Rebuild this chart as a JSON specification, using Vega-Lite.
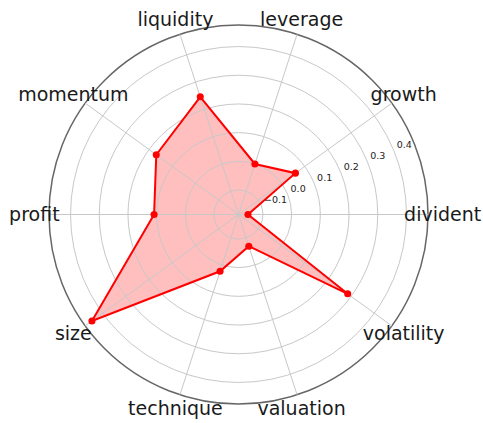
{
  "$schema": "https://vega.github.io/schema/vega-lite/v6.json",
  "width": 379,
  "height": 379,
  "autosize": "none",
  "padding": {"left": 49, "top": 25, "right": 55, "bottom": 19},
  "background": "white",
  "config": {"view": {"stroke": null}},
  "datasets": {
    "factors": [
      {"factor": "divident", "value": -0.152},
      {"factor": "growth", "value": 0.06},
      {"factor": "leverage", "value": 0.0},
      {"factor": "liquidity", "value": 0.246},
      {"factor": "momentum", "value": 0.169},
      {"factor": "profit", "value": 0.109},
      {"factor": "size", "value": 0.446},
      {"factor": "technique", "value": 0.023},
      {"factor": "valuation", "value": -0.069},
      {"factor": "volatility", "value": 0.285}
    ],
    "rings": [
      {"r": -0.1, "kind": "grid"}, {"r": 0.0, "kind": "grid"}, {"r": 0.1, "kind": "grid"},
      {"r": 0.2, "kind": "grid"}, {"r": 0.3, "kind": "grid"}, {"r": 0.4, "kind": "grid"},
      {"r": 0.475, "kind": "spine"}
    ],
    "ticks": [
      {"t": -0.1, "label": "−0.1"},
      {"t": 0.0, "label": "0.0"},
      {"t": 0.1, "label": "0.1"},
      {"t": 0.2, "label": "0.2"},
      {"t": 0.3, "label": "0.3"},
      {"t": 0.4, "label": "0.4"}
    ]
  },
  "data": {"name": "factors"},
  "transform": [
    {"window": [{"op": "row_number", "as": "idx"}]},
    {"calculate": "(datum.idx - 1) * PI / 5", "as": "ang"},
    {"calculate": "(datum.value + 0.185) * cos(datum.ang)", "as": "px"},
    {"calculate": "(datum.value + 0.185) * sin(datum.ang)", "as": "py"},
    {"calculate": "0", "as": "cx"},
    {"calculate": "0.66 * cos(datum.ang)", "as": "sx"},
    {"calculate": "0.66 * sin(datum.ang)", "as": "sy"},
    {"calculate": "0.711 * cos(datum.ang)", "as": "lx"},
    {"calculate": "0.711 * sin(datum.ang)", "as": "ly"}
  ],
  "layer": [
    {
      "mark": {"type": "line", "interpolate": "linear-closed", "fill": "#ff0000", "fillOpacity": 0.25, "strokeOpacity": 0},
      "encoding": {
        "x": {"field": "px", "type": "quantitative", "scale": {"domain": [-0.66, 0.66], "nice": false, "zero": false}, "axis": null},
        "y": {"field": "py", "type": "quantitative", "scale": {"domain": [-0.66, 0.66], "nice": false, "zero": false}, "axis": null},
        "order": {"field": "idx", "type": "quantitative"}
      }
    },
    {
      "data": {"name": "rings"},
      "transform": [
        {"calculate": "datum.r + 0.185", "as": "rr"},
        {"calculate": "0", "as": "cx"}
      ],
      "mark": {"type": "point", "shape": "circle", "filled": false, "opacity": 1},
      "encoding": {
        "x": {"field": "cx", "type": "quantitative", "scale": {"domain": [-0.66, 0.66], "nice": false, "zero": false}, "axis": null},
        "y": {"field": "cx", "type": "quantitative", "scale": {"domain": [-0.66, 0.66], "nice": false, "zero": false}, "axis": null},
        "size": {"field": "rr", "type": "quantitative", "scale": {"type": "pow", "exponent": 2, "domain": [0, 0.66], "range": [0, 143641], "zero": true}, "legend": null},
        "stroke": {"field": "kind", "type": "nominal", "scale": {"domain": ["grid", "spine"], "range": ["#c8c8c8", "#666666"]}, "legend": null},
        "strokeWidth": {"field": "kind", "type": "nominal", "scale": {"domain": ["grid", "spine"], "range": [1, 1.5]}, "legend": null}
      }
    },
    {
      "mark": {"type": "rule", "color": "#c8c8c8", "strokeWidth": 1},
      "encoding": {
        "x": {"field": "cx", "type": "quantitative", "scale": {"domain": [-0.66, 0.66], "nice": false, "zero": false}, "axis": null},
        "y": {"field": "cx", "type": "quantitative", "scale": {"domain": [-0.66, 0.66], "nice": false, "zero": false}, "axis": null},
        "x2": {"field": "sx"},
        "y2": {"field": "sy"}
      }
    },
    {
      "mark": {"type": "line", "interpolate": "linear-closed", "color": "#ff0000", "strokeWidth": 2},
      "encoding": {
        "x": {"field": "px", "type": "quantitative", "scale": {"domain": [-0.66, 0.66], "nice": false, "zero": false}, "axis": null},
        "y": {"field": "py", "type": "quantitative", "scale": {"domain": [-0.66, 0.66], "nice": false, "zero": false}, "axis": null},
        "order": {"field": "idx", "type": "quantitative"}
      }
    },
    {
      "mark": {"type": "point", "filled": true, "shape": "circle", "size": 50, "color": "#ff0000", "opacity": 1},
      "encoding": {
        "x": {"field": "px", "type": "quantitative", "scale": {"domain": [-0.66, 0.66], "nice": false, "zero": false}, "axis": null},
        "y": {"field": "py", "type": "quantitative", "scale": {"domain": [-0.66, 0.66], "nice": false, "zero": false}, "axis": null}
      }
    },
    {
      "mark": {"type": "text", "font": "DejaVu Sans", "fontSize": 19, "align": "center", "baseline": "middle", "color": "#1a1a1a"},
      "encoding": {
        "x": {"field": "lx", "type": "quantitative", "scale": {"domain": [-0.66, 0.66], "nice": false, "zero": false}, "axis": null},
        "y": {"field": "ly", "type": "quantitative", "scale": {"domain": [-0.66, 0.66], "nice": false, "zero": false}, "axis": null},
        "text": {"field": "factor"}
      }
    },
    {
      "data": {"name": "ticks"},
      "transform": [
        {"calculate": "(datum.t + 0.185) * cos(PI / 8)", "as": "tx"},
        {"calculate": "(datum.t + 0.185) * sin(PI / 8)", "as": "ty"}
      ],
      "mark": {"type": "text", "font": "DejaVu Sans", "fontSize": 9.5, "align": "left", "baseline": "bottom", "dx": 3, "color": "#222222"},
      "encoding": {
        "x": {"field": "tx", "type": "quantitative", "scale": {"domain": [-0.66, 0.66], "nice": false, "zero": false}, "axis": null},
        "y": {"field": "ty", "type": "quantitative", "scale": {"domain": [-0.66, 0.66], "nice": false, "zero": false}, "axis": null},
        "text": {"field": "label"}
      }
    }
  ]
}
